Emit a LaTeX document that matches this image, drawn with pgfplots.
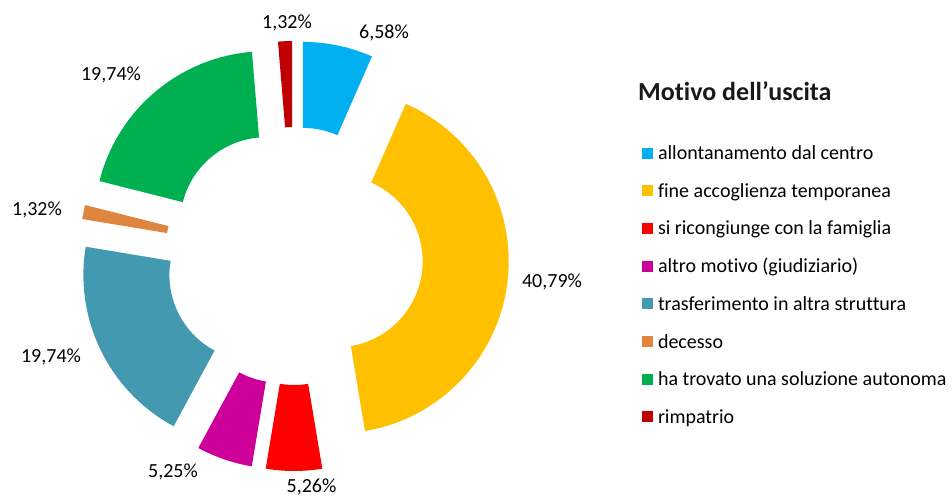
\documentclass[border=0pt]{standalone}
\usepackage{fontspec}
\setmainfont{Carlito}[Ligatures=NoCommon]
\usepackage{pgfplots}
\usepackage{pgfplotstable}
\pgfplotsset{compat=1.18}

\definecolor{slice0}{HTML}{00B0F0}
\definecolor{slice1}{HTML}{FFC000}
\definecolor{slice2}{HTML}{FF0000}
\definecolor{slice3}{HTML}{CC0099}
\definecolor{slice4}{HTML}{4399B0}
\definecolor{slice5}{HTML}{DE853F}
\definecolor{slice6}{HTML}{00B050}
\definecolor{slice7}{HTML}{C00000}

% one ring segment, drawn around the (exploded) slice centre
\pgfdeclareplotmark{donutslice}{%
  \pgfpathmoveto{\pgfpointpolar{\slicea}{86pt}}%
  \pgfpatharc{\slicea}{\sliceb}{86pt}%
  \pgfpathlineto{\pgfpointpolar{\sliceb}{172pt}}%
  \pgfpatharc{\sliceb}{\slicea}{172pt}%
  \pgfpathclose
  \pgfusepathqfill
}

% pct = share, a1/a2 = start/end angle, ci = colour index, lx/ly = label position
\pgfplotstableread{
pct   a1       a2       ci  lx     ly
6.58  90       66.312   0   90     217
40.79 66.312   -80.532  1   258    -31
5.26  -80.532  -99.468  2   17.5   -236
5.25  -99.468  -118.368 3   -121   -221
19.74 -118.368 -189.432 4   -243   -106
1.32  -189.432 -194.184 5   -257   40
19.74 -194.184 -265.248 6   -183   175
1.32  -265.248 -270     7   -7     227
}\slices

\begin{document}
\begin{tikzpicture}
\begin{axis}[
  x=1pt, y=1pt,
  xmin=-294, xmax=658, ymin=-240, ymax=256,
  hide axis, clip=false,
  legend style={at={(axis cs:348,109.5)}, anchor=north west,
    draw=none, fill=none, inner sep=0pt, outer sep=0pt,
    font=\fontsize{20}{24}\selectfont,
    nodes={inner sep=0pt, text height=13pt, text depth=0pt, anchor=west},
    row sep=24.7pt, column sep=5pt},
  legend cell align=left,
  legend image code/.code={\fill[#1, draw=none] (0pt,-5.5pt) rectangle (11pt,5.5pt);},
]
\path (rel axis cs:0,0) rectangle (rel axis cs:1,1);

\addplot[scatter, only marks, mark=donutslice, forget plot,
  point meta=\thisrow{pct},
  visualization depends on={\thisrow{a1}\as\slicea},
  visualization depends on={\thisrow{a2}\as\sliceb},
  visualization depends on={\thisrow{ci}\as\sliceci},
  scatter/@pre marker code/.code={%
    \pgfmathtruncatemacro\cidx{\sliceci}%
    \pgfscope\pgfsetfillcolor{slice\cidx}},
  scatter/@post marker code/.code={\endpgfscope},
] table[x expr={43*cos((\thisrow{a1}+\thisrow{a2})/2)},
        y expr={43*sin((\thisrow{a1}+\thisrow{a2})/2)}] {\slices};

\addplot[draw=none, mark=none, forget plot,
  point meta=\thisrow{pct},
  nodes near coords={\pgfmathprintnumber[fixed,fixed zerofill,precision=2,use comma,assume math mode=true]{\pgfplotspointmeta}\%},
  nodes near coords style={anchor=base, inner sep=0pt, yshift=0pt,
    font=\fontsize{20}{24}\selectfont, text=black},
] table[x=lx, y=ly] {\slices};

\node[anchor=base west, inner sep=0pt, font=\bfseries\fontsize{26}{30}\selectfont, text=black!90]
  at (axis cs:344,155) {Motivo dell’uscita};

\addlegendimage{fill=slice0}\addlegendentry{allontanamento dal centro}
\addlegendimage{fill=slice1}\addlegendentry{fine accoglienza temporanea}
\addlegendimage{fill=slice2}\addlegendentry{si ricongiunge con la famiglia}
\addlegendimage{fill=slice3}\addlegendentry{altro motivo (giudiziario)}
\addlegendimage{fill=slice4}\addlegendentry{trasferimento in altra struttura}
\addlegendimage{fill=slice5}\addlegendentry{decesso}
\addlegendimage{fill=slice6}\addlegendentry{ha trovato una soluzione autonoma}
\addlegendimage{fill=slice7}\addlegendentry{rimpatrio}
\end{axis}
\end{tikzpicture}
\end{document}
